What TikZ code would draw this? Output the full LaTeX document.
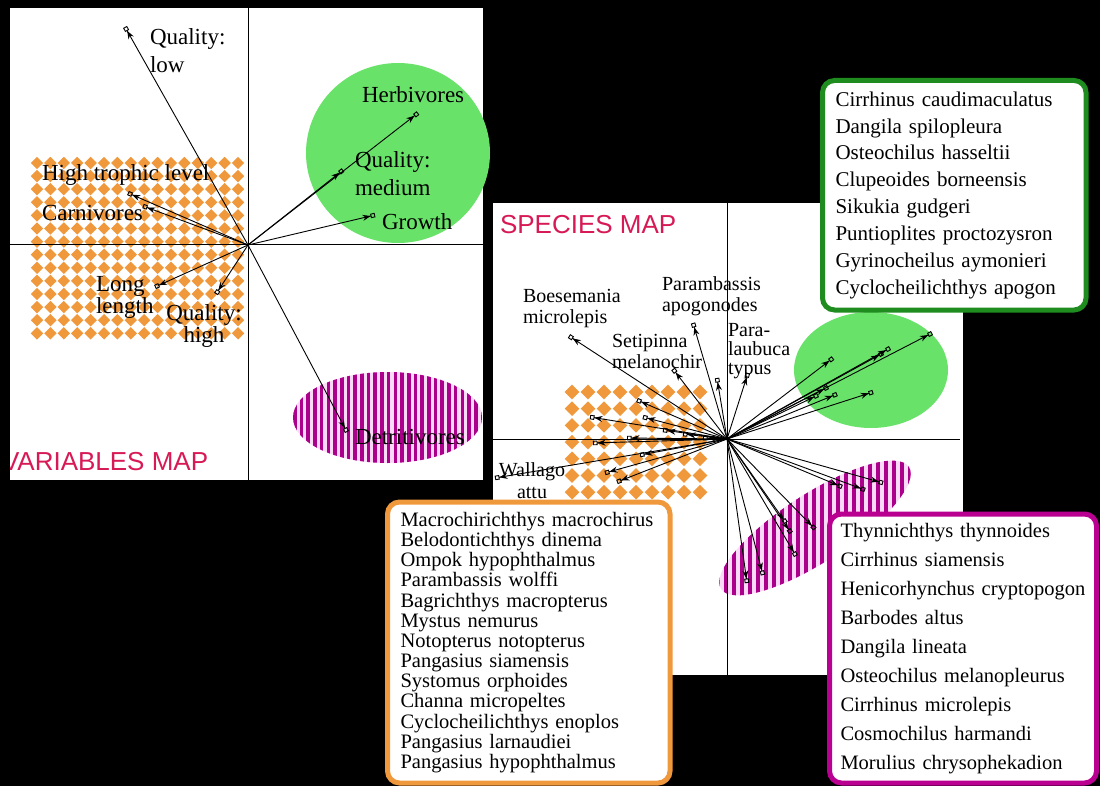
\documentclass[tikz,border=0pt]{standalone}
\usepackage{fontspec}
\setmainfont{Liberation Serif}
\setsansfont{Liberation Sans}
\usetikzlibrary{arrows.meta}

\definecolor{dotorange}{RGB}{240,152,60}
\definecolor{dotgreen}{RGB}{105,226,105}
\definecolor{stripemag}{RGB}{172,0,140}
\definecolor{stripebg}{RGB}{250,218,246}
\definecolor{boxgreen}{RGB}{30,140,30}
\definecolor{boxmagenta}{RGB}{185,0,145}
\definecolor{maptitle}{RGB}{215,25,85}

\begin{document}
\begin{tikzpicture}[
    x=1pt, y=-1pt,
    every node/.style={inner sep=0pt, outer sep=0pt, align=left},
    every edge/.style={draw, line width=0.9pt, -{Stealth[length=8pt,width=6pt] Square[open,length=4.5pt,width=4.5pt]}},
    axis/.style={line width=1pt},
    varlabel/.style={font=\fontsize{23}{28}\selectfont, anchor=west},
    spclabel/.style={font=\fontsize{20}{21}\selectfont, anchor=west},
    maptitle/.style={font=\sffamily\fontsize{26}{26}\selectfont, text=maptitle, anchor=west},
    listbox/.style={draw, line width=5pt, rounded corners=12pt, fill=white, anchor=north west, inner xsep=13pt}
]
\fill[black] (0,0) rectangle (1100,786);
\useasboundingbox (0,0) rectangle (1100,786);

\fill[white] (10,8) rectangle (483,480);
\fill[white] (493,203) rectangle (963,675);

% variables map
\foreach \i in {0,...,15}
  \foreach \j in {0,...,13}
    \fill[dotorange] (37+\i*13.4,163+\j*13.1) ++(0,-6.2) -- ++(6.2,6.2) -- ++(-6.2,6.2) -- ++(-6.2,-6.2) -- cycle;
\fill[dotgreen] (398,153) ellipse [x radius=92, y radius=90];
\begin{scope}
  \clip (387.5,417.5) ellipse [x radius=94.5, y radius=45.5];
  \fill[stripebg] (290,370) rectangle (485,465);
  \foreach \k in {0,...,28}
    \fill[stripemag] (293+\k*6.7,370) rectangle ++(3.6,95);
\end{scope}
\draw[axis] (248,8) -- (248,480);
\draw[axis] (10,245) -- (483,245);

\coordinate (vo) at (248,245);
\coordinate (qlow) at (125,27);
\coordinate (herb) at (418,113);
\coordinate (qmed) at (343,170);
\coordinate (grow) at (375,215);
\coordinate (htl) at (128,193);
\coordinate (carn) at (143,206);
\coordinate (long) at (155,287);
\coordinate (qhigh) at (216,294);
\coordinate (detr) at (347,432);

\path (vo) edge (qlow) edge (herb) edge (qmed) edge (grow) edge (htl)
           edge (carn) edge (long) edge (qhigh) edge (detr);

\node[varlabel] (lqlow) at (150,51) {Quality:\\low};
\node[varlabel] (lherb) at (362,95) {Herbivores};
\node[varlabel] (lqmed) at (355,174) {Quality:\\medium};
\node[varlabel] (lgrow) at (382,222) {Growth};
\node[varlabel] (lhtl) at (42,175) {High trophic level};
\node[varlabel] (lcarn) at (42,213) {Carnivores};
\node[varlabel, font=\fontsize{23}{13}\selectfont] (llong) at (96,297) {Long\\length};
\node[font=\fontsize{23}{15}\selectfont, align=center] (lqhigh) at (204,326) {Quality:\\high};
\node[varlabel] (ldetr) at (355,437) {Detritivores};

\begin{scope}
  \clip (10,8) rectangle (483,480);
  \node[maptitle] (vmap) at (2,462) {VARIABLES MAP};
\end{scope}

% species map
\foreach \i in {0,...,8}
  \foreach \j in {0,...,6}
    \fill[dotorange] (572+\i*16,392+\j*16.7) ++(0,-7.3) -- ++(7.3,7.3) -- ++(-7.3,7.3) -- ++(-7.3,-7.3) -- cycle;
\fill[dotgreen] (871,370) ellipse [x radius=77, y radius=58];
\begin{scope}
  \clip[rotate around={33:(815,528)}] (815,528) ellipse [x radius=112, y radius=34];
  \fill[stripebg] (690,430) rectangle (940,630);
  \foreach \k in {0,...,31}
    \fill[stripemag] (692+\k*8,430) rectangle ++(4.2,200);
\end{scope}
\draw[axis] (727,203) -- (727,675);
\draw[axis] (493,439) -- (960,439);

\coordinate (so) at (727,439);
\coordinate (boes) at (569,336);
\coordinate (paap) at (693,323);
\coordinate (seti) at (673,369);
\coordinate (palb) at (748,373);
\coordinate (wall) at (495,478);

\path (so) edge (boes) edge (paap) edge (seti) edge (palb) edge (wall);
\foreach \x/\y [count=\n] in {717/378,
    637/400, 590/417, 643/417, 663/430, 683/434, 593/443, 627/438, 640/455, 605/473, 617/482, 703/438,
    932/333, 890/348, 883/353, 833/358, 828/387, 837/394, 873/392, 818/395,
    883/483, 865/490, 842/487, 815/529, 791/533, 796/556, 763/575, 747/583, 786/523}
  \path (so) edge (\x,\y);

\node[spclabel] (lboes) at (523,309) {Boesemania\\microlepis};
\node[spclabel] (lpaap) at (662,296) {Parambassis\\apogonodes};
\node[spclabel] (lseti) at (612,351) {Setipinna\\melanochir};
\node[spclabel, font=\fontsize{20}{19}\selectfont] (lpalb) at (728,351) {Para-\\laubuca\\typus};
\node[font=\fontsize{20}{22}\selectfont, align=center] (lwall) at (532,481) {Wallago\\attu};

\node[maptitle] (smap) at (500,225) {SPECIES MAP};

% species lists
\node[listbox, draw=boxgreen, text width=237.5pt, minimum height=229.5pt,
      font=\fontsize{21}{26.9}\selectfont] (greenlist) at (822.5,80.5)
  {Cirrhinus caudimaculatus\\Dangila spilopleura\\Osteochilus hasseltii\\Clupeoides borneensis\\Sikukia gudgeri\\Puntioplites proctozysron\\Gyrinocheilus aymonieri\\Cyclocheilichthys apogon};
\node[listbox, draw=dotorange, text width=256.5pt, minimum height=281pt,
      font=\fontsize{20.5}{20.17}\selectfont] (orangelist) at (387.5,502)
  {Macrochirichthys macrochirus\\Belodontichthys dinema\\Ompok hypophthalmus\\Parambassis wolffi\\Bagrichthys macropterus\\Mystus nemurus\\Notopterus notopterus\\Pangasius siamensis\\Systomus orphoides\\Channa micropeltes\\Cyclocheilichthys enoplos\\Pangasius larnaudiei\\Pangasius hypophthalmus};
\node[listbox, draw=boxmagenta, inner xsep=11pt, text width=245pt, minimum height=269pt,
      font=\fontsize{20.5}{29}\selectfont] (magentalist) at (829.5,514)
  {Thynnichthys thynnoides\\Cirrhinus siamensis\\Henicorhynchus cryptopogon\\Barbodes altus\\Dangila lineata\\Osteochilus melanopleurus\\Cirrhinus microlepis\\Cosmochilus harmandi\\Morulius chrysophekadion};
\end{tikzpicture}
\end{document}
